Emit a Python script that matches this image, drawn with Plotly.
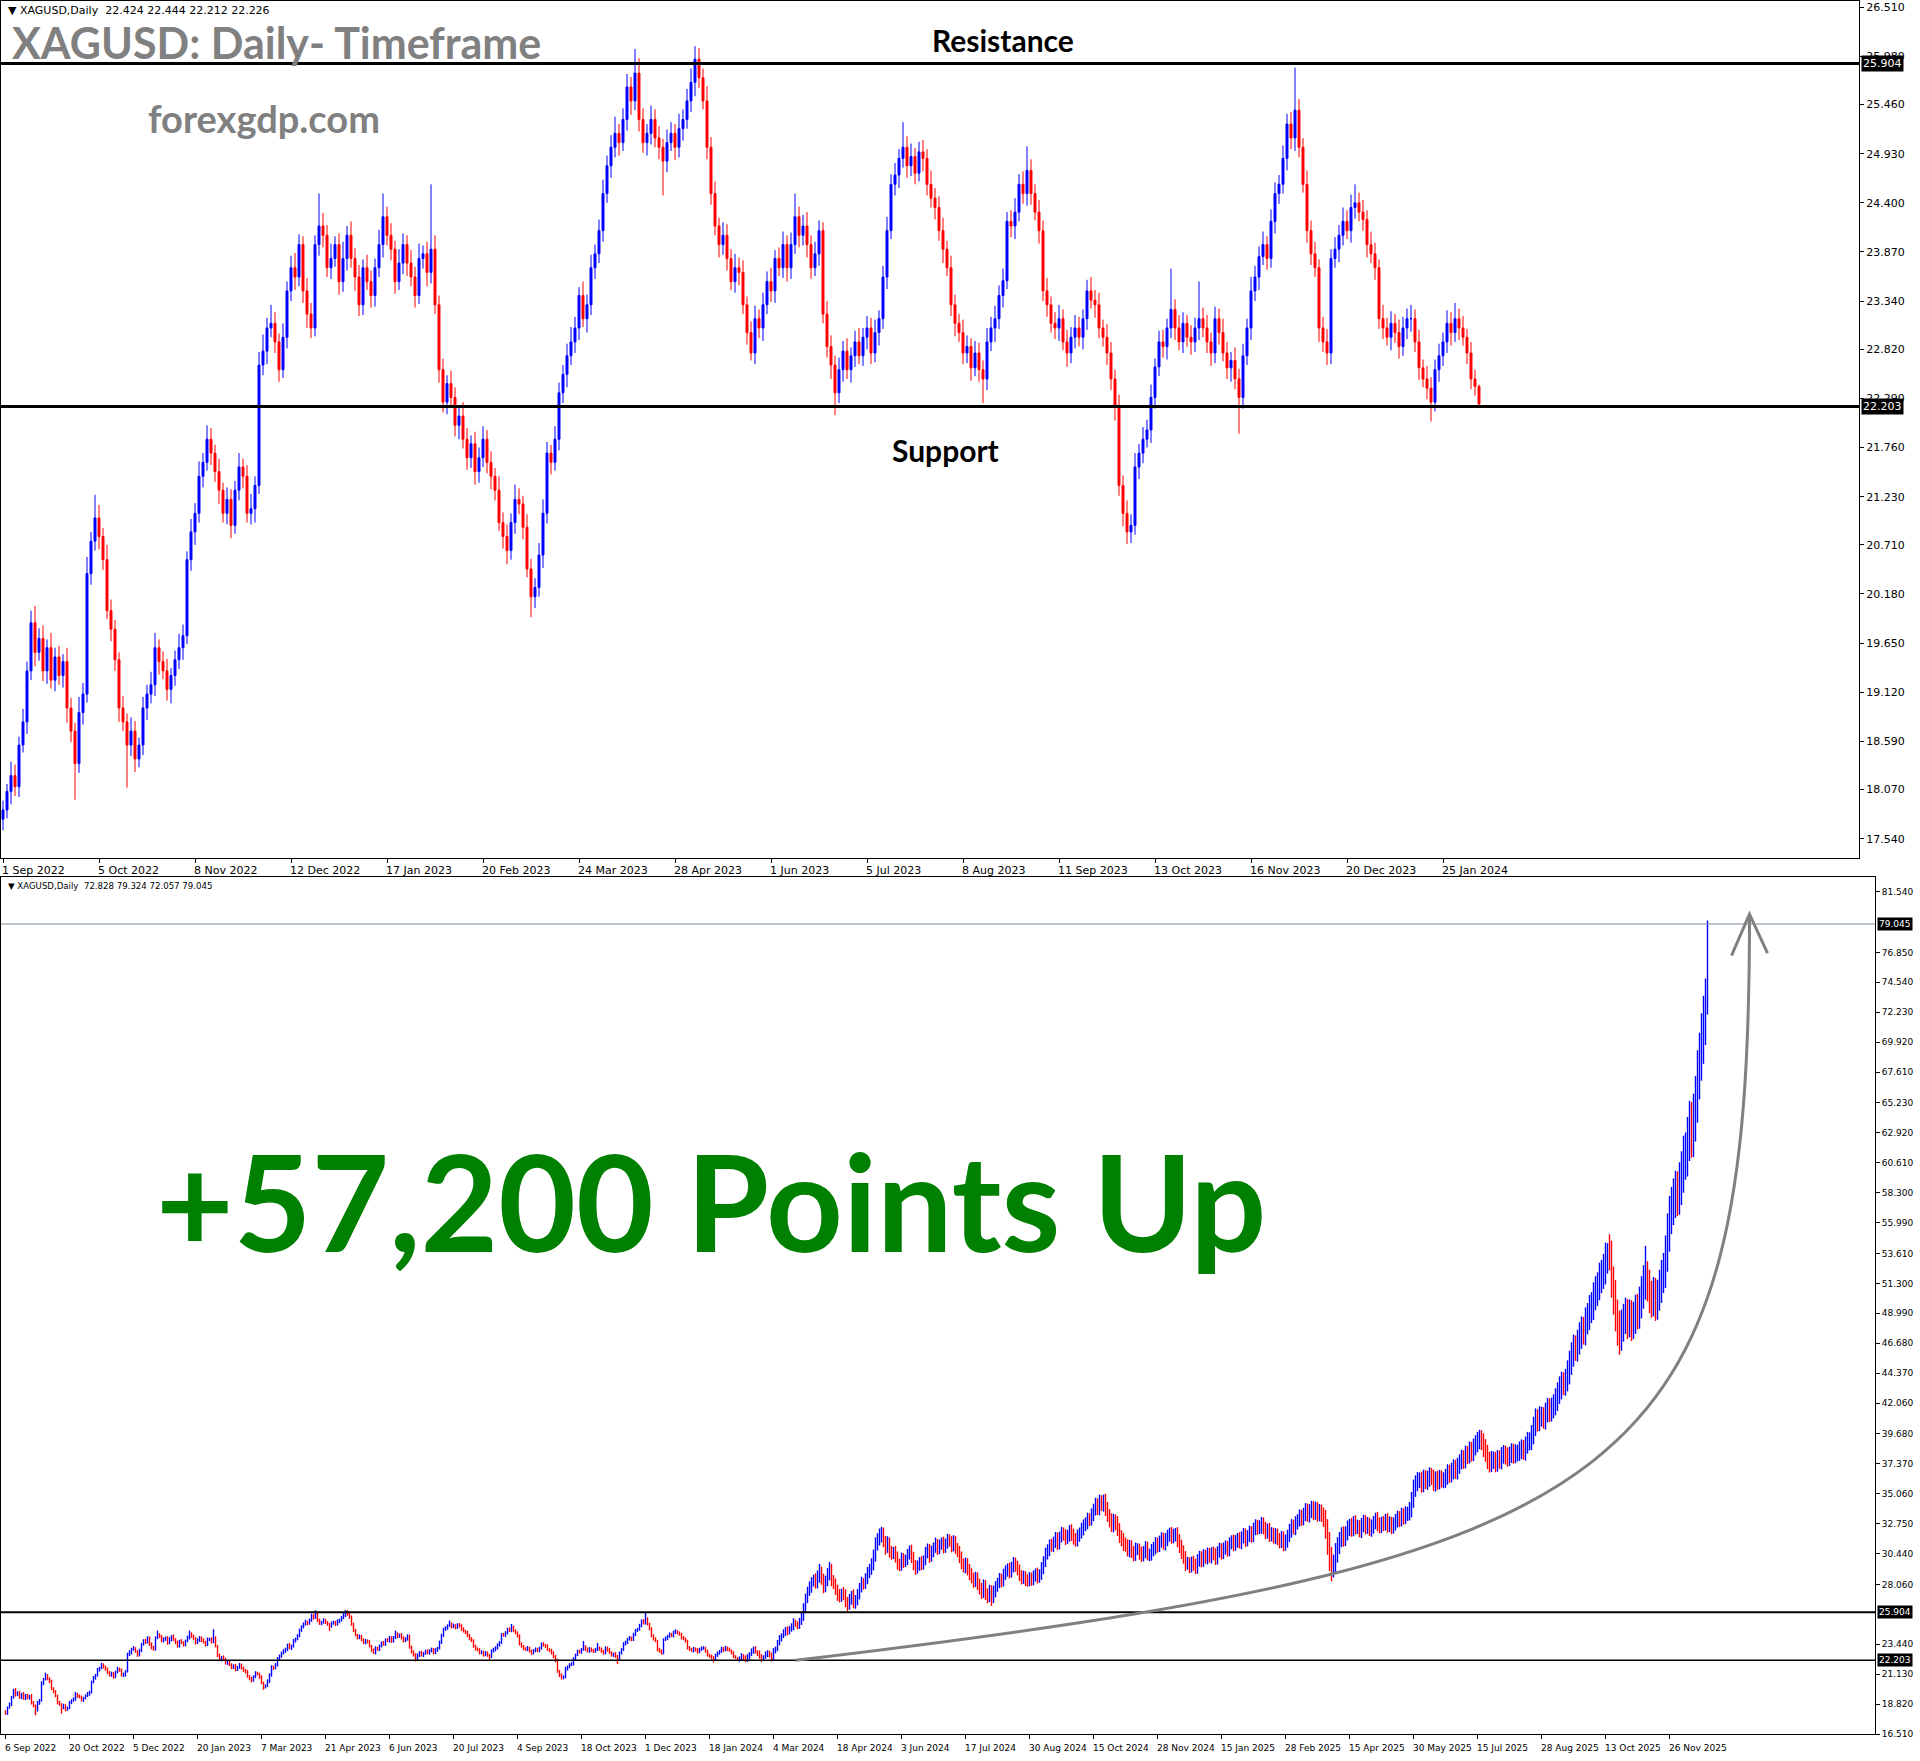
import plotly.graph_objects as go

W, H = 1920, 1761

# ---------------- data ----------------
top_first_open = 17.75
top_close = [
    17.85, 18.05, 18.22, 18.10, 18.55, 18.80, 19.35, 19.87, 19.55, 19.70,
    19.35, 19.60, 19.25, 19.50, 19.30, 19.45, 18.95, 18.70, 18.35, 18.90,
    19.10, 20.40, 20.75, 21.00, 20.80, 20.55, 20.00, 19.80, 19.47, 18.95,
    18.80, 18.55, 18.70, 18.40, 18.55, 18.95, 19.10, 19.20, 19.60, 19.45,
    19.35, 19.15, 19.30, 19.47, 19.60, 19.73, 20.55, 20.85, 21.05, 21.45,
    21.60, 21.85, 21.70, 21.50, 21.30, 21.05, 21.20, 20.92, 21.30, 21.55,
    21.45, 21.05, 21.10, 21.35, 22.65, 22.80, 23.05, 23.10, 22.90, 22.60,
    22.95, 23.45, 23.70, 23.60, 23.95, 23.45, 23.20, 23.05, 23.95, 24.15,
    24.05, 23.70, 23.80, 23.95, 23.55, 23.80, 24.05, 23.80, 23.60, 23.30,
    23.70, 23.55, 23.40, 23.70, 23.95, 24.25, 24.05, 23.90, 23.55, 23.75,
    23.95, 23.75, 23.60, 23.40, 23.80, 23.85, 23.65, 23.90, 23.30, 22.60,
    22.25, 22.45, 22.30, 22.00, 22.10, 21.85, 21.65, 21.80, 21.50, 21.65,
    21.85, 21.60, 21.45, 21.30, 20.95, 20.80, 20.65, 20.95, 21.20, 21.15,
    20.90, 20.45, 20.15, 20.25, 20.60, 21.05, 21.70, 21.60, 21.85, 22.35,
    22.55, 22.75, 22.90, 23.05, 23.40, 23.15, 23.30, 23.70, 23.85, 24.10,
    24.50, 24.80, 25.00, 25.15, 25.05, 25.30, 25.65, 25.50, 25.80, 25.30,
    25.05, 25.15, 25.30, 25.10, 25.00, 24.85, 25.05, 25.15, 25.00, 25.20,
    25.30, 25.50, 25.70, 25.95, 25.75, 25.50, 25.00, 24.50, 24.15, 23.95,
    24.05, 23.80, 23.55, 23.70, 23.65, 23.30, 23.00, 22.78, 23.15, 23.05,
    23.30, 23.55, 23.45, 23.80, 23.70, 23.95, 23.70, 23.95, 24.25, 24.05,
    24.15, 23.95, 23.70, 23.85, 24.10, 23.20, 22.85, 22.65, 22.35, 22.60,
    22.80, 22.60, 22.75, 22.90, 22.75, 22.95, 23.05, 22.78, 23.00, 23.15,
    23.60, 24.10, 24.60, 24.70, 24.88, 25.00, 24.80, 24.90, 24.72, 24.95,
    24.88, 24.60, 24.45, 24.35, 24.10, 23.90, 23.70, 23.30, 23.10, 23.00,
    22.78, 22.85, 22.62, 22.78, 22.60, 22.50, 22.90, 23.05, 23.15, 23.40,
    23.56, 24.20, 24.15, 24.30, 24.60, 24.50, 24.75, 24.50, 24.30, 24.10,
    23.45, 23.30, 23.10, 23.05, 23.15, 22.90, 22.78, 22.95, 23.05, 22.95,
    23.15, 23.45, 23.35, 23.30, 23.05, 22.95, 22.78, 22.50, 22.20, 21.35,
    21.05, 20.85, 20.92, 21.55, 21.70, 21.85, 21.95, 22.30, 22.63, 22.90,
    22.85, 23.05, 23.25, 23.05, 22.90, 23.10, 22.95, 22.90, 23.05, 23.15,
    23.05, 22.90, 22.78, 23.15, 23.00, 22.78, 22.62, 22.70, 22.50, 22.30,
    22.75, 23.05, 23.45, 23.60, 23.82, 23.95, 23.80, 24.20, 24.50, 24.60,
    24.88, 25.25, 25.10, 25.40, 25.00, 24.60, 24.10, 23.85, 23.70, 23.05,
    22.90, 22.78, 23.80, 23.90, 24.05, 24.20, 24.10, 24.35, 24.40, 24.30,
    24.22, 23.95, 23.85, 23.70, 23.15, 23.05, 22.95, 23.10, 23.00, 22.85,
    23.05, 23.15, 23.15, 22.90, 22.62, 22.50, 22.40, 22.25, 22.60, 22.75,
    22.90, 23.10, 23.00, 23.15, 23.05, 22.95, 22.78, 22.50, 22.42, 22.23,
]
top_upper_wick_cents = [
    10, 8, 15, 12, 9, 14, 10, 13, 18, 11,
    14, 9, 16, 10, 12, 8, 15, 11, 9, 17,
    12, 18, 10, 25, 14, 9, 16, 12, 10, 8,
    13, 9, 15, 11, 8, 12, 10, 14, 16, 9,
    11, 13, 8, 10, 15, 12, 9, 14, 11, 16,
    10, 15, 12, 9, 14, 8, 13, 11, 10, 15,
    9, 12, 16, 10, 14, 18, 11, 20, 12, 9,
    15, 10, 13, 16, 11, 9, 14, 12, 10, 35,
    14, 11, 16, 9, 12, 18, 10, 15, 11, 13,
    9, 14, 12, 10, 16, 25, 11, 13, 9, 15,
    12, 10, 14, 11, 16, 9, 13, 70, 15, 10,
    12, 9, 14, 11, 10, 15, 12, 9, 13, 11,
    14, 10, 12, 9, 15, 11, 13, 10, 16, 12,
    9, 14, 11, 10, 13, 15, 12, 9, 14, 11,
    10, 13, 16, 12, 9, 15, 11, 14, 10, 12,
    15, 11, 13, 18, 10, 12, 14, 11, 26, 16,
    12, 10, 15, 11, 13, 9, 14, 12, 10, 16,
    11, 13, 15, 14, 12, 10, 16, 11, 13, 9,
    14, 12, 10, 15, 11, 13, 9, 12, 14, 10,
    13, 11, 15, 9, 12, 14, 10, 13, 25, 11,
    12, 15, 10, 13, 11, 9, 14, 12, 10, 13,
    11, 14, 9, 12, 15, 10, 13, 11, 14, 9,
    12, 15, 11, 13, 10, 27, 12, 14, 9, 11,
    13, 10, 15, 11, 12, 14, 9, 13, 11, 10,
    14, 12, 9, 13, 11, 10, 15, 12, 14, 11,
    13, 10, 12, 15, 11, 14, 26, 12, 10, 13,
    11, 14, 9, 12, 15, 10, 13, 11, 14, 12,
    10, 12, 15, 11, 13, 9, 14, 12, 10, 13,
    11, 14, 12, 15, 10, 13, 11, 14, 9, 12,
    13, 10, 44, 11, 14, 12, 9, 13, 11, 40,
    12, 14, 10, 13, 11, 15, 12, 9, 14, 11,
    13, 10, 15, 12, 11, 14, 9, 13, 12, 10,
    14, 11, 13, 46, 12, 10, 15, 11, 13, 9,
    12, 14, 10, 13, 11, 15, 12, 14, 20, 11,
    13, 10, 14, 12, 9, 15, 11, 13, 10, 14,
    12, 11, 15, 10, 13, 9, 14, 12, 11, 13,
    10, 14, 12, 17, 11, 13, 9, 12, 10, 2,
]
top_lower_wick_cents = [
    12, 9, 14, 10, 11, 8, 13, 10, 15, 9,
    11, 14, 9, 12, 10, 13, 16, 12, 39, 10,
    13, 9, 12, 10, 14, 11, 9, 13, 12, 15,
    10, 46, 12, 14, 9, 11, 13, 10, 12, 14,
    9, 12, 15, 11, 10, 13, 9, 12, 14, 10,
    12, 9, 13, 11, 15, 10, 12, 14, 9, 11,
    13, 10, 12, 15, 9, 11, 14, 10, 12, 13,
    9, 12, 11, 14, 10, 13, 15, 11, 9, 12,
    13, 10, 12, 9, 14, 11, 13, 10, 15, 12,
    11, 9, 13, 12, 10, 14, 11, 12, 13, 9,
    12, 14, 10, 13, 9, 11, 15, 12, 10, 14,
    11, 13, 9, 12, 15, 10, 13, 11, 14, 12,
    10, 12, 14, 11, 9, 13, 15, 10, 12, 11,
    13, 9, 22, 12, 10, 14, 11, 13, 9, 12,
    11, 14, 10, 12, 13, 9, 15, 11, 12, 10,
    12, 10, 13, 11, 14, 9, 12, 15, 10, 13,
    11, 14, 12, 10, 13, 37, 12, 9, 14, 11,
    13, 10, 12, 15, 11, 9, 13, 12, 10, 14,
    11, 13, 9, 12, 14, 10, 13, 8, 12, 11,
    14, 10, 12, 13, 9, 11, 15, 12, 10, 13,
    11, 14, 12, 9, 13, 10, 12, 15, 24, 11,
    13, 10, 14, 12, 9, 11, 13, 12, 10, 14,
    11, 13, 9, 12, 14, 10, 13, 11, 12, 9,
    14, 12, 10, 13, 11, 15, 9, 12, 14, 10,
    12, 11, 14, 9, 13, 26, 12, 10, 15, 11,
    13, 9, 12, 14, 10, 11, 13, 12, 9, 14,
    11, 13, 10, 12, 14, 9, 15, 11, 12, 10,
    13, 12, 9, 14, 11, 10, 13, 12, 15, 11,
    14, 13, 12, 10, 13, 11, 9, 14, 12, 10,
    12, 14, 11, 13, 9, 12, 10, 14, 11, 13,
    10, 12, 14, 11, 13, 9, 12, 15, 11, 39,
    12, 10, 13, 11, 14, 9, 12, 10, 13, 11,
    10, 13, 12, 14, 11, 9, 13, 12, 10, 15,
    11, 13, 12, 10, 14, 11, 9, 13, 12, 10,
    12, 14, 10, 13, 11, 12, 9, 14, 11, 13,
    10, 12, 14, 11, 13, 9, 12, 21, 10, 13,
    11, 12, 14, 10, 13, 9, 12, 11, 10, 2,
]
top_date_labels = ["1 Sep 2022", "5 Oct 2022", "8 Nov 2022", "12 Dec 2022", "17 Jan 2023",
                   "20 Feb 2023", "24 Mar 2023", "28 Apr 2023", "1 Jun 2023", "5 Jul 2023",
                   "8 Aug 2023", "11 Sep 2023", "13 Oct 2023", "16 Nov 2023", "20 Dec 2023",
                   "25 Jan 2024"]
top_label_every = 24
top_price_ticks = [26.51, 25.98, 25.46, 24.93, 24.40, 23.87, 23.34, 22.82, 22.29,
                   21.76, 21.23, 20.71, 20.18, 19.65, 19.12, 18.59, 18.07, 17.54]

bottom_start_shift = 3   # the lower chart starts 3 daily bars after the upper one
bottom_new_close = [
    22.35, 22.55, 22.40, 22.20, 22.45, 22.70, 22.90, 23.10, 22.85, 22.75,
    22.50, 22.30, 22.45, 22.65, 22.80, 22.60, 22.35, 22.90, 23.10, 23.55,
    23.90, 24.10, 24.30, 24.55, 24.40, 24.65, 24.80, 25.10, 25.00, 24.85,
    25.20, 25.55, 26.20, 26.90, 27.50, 27.80, 28.20, 28.45, 28.10, 28.60,
    28.95, 28.50, 27.90, 28.30, 28.80, 29.20, 28.40, 28.10, 27.70, 27.30,
    27.10, 27.40, 27.30, 26.80, 26.55, 26.90, 27.20, 26.70, 26.90, 27.30,
    27.80, 28.20, 28.10, 28.50, 28.90, 29.20, 29.60, 30.20, 31.10, 31.50,
    31.80, 32.00, 31.40, 30.90, 31.30, 30.60, 30.40, 30.60, 30.20, 29.70,
    29.50, 30.10, 29.80, 29.90, 30.40, 30.70, 30.20, 29.60, 29.30, 29.50,
    29.80, 29.60, 29.90, 30.50, 30.80, 30.20, 30.60, 30.90, 31.20, 30.80,
    31.10, 31.30, 30.90, 31.20, 31.50, 31.40, 31.00, 31.40, 30.90, 30.60,
    30.20, 29.70, 29.40, 29.70, 29.20, 28.90, 28.60, 28.30, 28.60, 28.10,
    27.80, 27.50, 28.00, 27.40, 27.20, 27.60, 27.10, 27.50, 27.90, 28.20,
    28.50, 28.30, 28.80, 29.10, 29.30, 29.00, 29.40, 29.70, 29.50, 29.20,
    28.80, 28.50, 28.70, 28.40, 28.30, 28.60, 28.40, 28.70, 28.90, 28.60,
    28.80, 29.30, 29.80, 30.40, 30.70, 31.10, 31.00, 31.30, 31.60, 31.20,
    31.70, 32.00, 31.90, 31.60, 31.80, 32.20, 31.90, 31.60, 31.40, 31.80,
    32.00, 32.30, 32.60, 32.80, 33.10, 33.00, 33.40, 33.80, 34.20, 33.90,
    34.40, 34.20, 34.50, 33.90, 33.40, 33.00, 32.60, 33.00, 32.80, 32.30,
    31.80, 31.50, 31.20, 31.10, 30.70, 31.00, 30.60, 30.40, 30.80, 30.80,
    30.50, 30.30, 30.60, 30.90, 30.40, 30.40, 30.70, 30.90, 31.20, 31.00,
    31.40, 31.60, 31.20, 31.50, 31.80, 32.00, 31.70, 31.90, 32.00, 31.50,
    31.00, 30.60, 30.20, 29.70, 29.70, 29.50, 29.80, 29.60, 29.40, 29.90,
    30.20, 29.90, 30.30, 30.10, 30.40, 30.20, 30.50, 30.40, 30.10, 30.60,
    30.80, 30.50, 30.80, 31.00, 30.70, 31.20, 31.40, 31.10, 31.40, 31.60,
    31.30, 31.70, 31.90, 31.50, 31.80, 32.10, 31.80, 32.30, 32.60, 32.40,
    32.50, 32.80, 32.40, 32.10, 32.30, 31.90, 32.00, 31.70, 31.90, 31.60,
    31.40, 31.70, 31.20, 31.40, 31.80, 32.20, 32.60, 32.40, 32.80, 33.00,
    33.30, 33.10, 33.50, 33.80, 33.40, 33.70, 34.00, 33.60, 33.90, 33.50,
    33.70, 33.50, 33.20, 32.40, 31.30, 30.20, 29.50, 29.70, 30.40, 31.00,
    31.50, 31.90, 31.60, 32.00, 32.40, 32.60, 32.30, 32.80, 32.50, 32.50,
    32.20, 32.60, 32.90, 32.50, 32.70, 32.30, 32.50, 32.80, 33.10, 32.70,
    32.50, 32.80, 32.70, 33.00, 32.60, 32.80, 32.50, 32.70, 33.00, 33.20,
    33.00, 33.40, 33.20, 33.50, 33.50, 33.80, 34.50, 35.40, 35.80, 36.10,
    36.10, 35.80, 36.30, 36.00, 36.20, 36.50, 36.30, 35.90, 36.20, 36.00,
    36.30, 36.10, 36.10, 36.40, 36.70, 36.50, 36.80, 37.10, 36.80, 37.20,
    37.50, 37.80, 37.60, 38.10, 38.00, 38.40, 38.20, 38.60, 38.90, 39.10,
    39.30, 39.10, 38.60, 38.20, 37.70, 37.40, 37.70, 37.70, 37.40, 37.80,
    37.60, 38.00, 38.20, 38.00, 37.80, 38.10, 38.30, 38.00, 38.20, 38.20,
    38.40, 38.60, 38.30, 38.80, 39.10, 39.10, 39.60, 40.20, 40.80, 40.60,
    41.00, 41.00, 40.80, 41.30, 41.60, 41.40, 41.70, 41.90, 42.30, 42.80,
    43.20, 43.60, 43.50, 43.80, 44.40, 45.10, 45.80, 46.30, 46.20, 46.70,
    47.20, 47.70, 47.50, 48.30, 48.70, 49.20, 49.50, 50.20, 50.60, 51.00,
    51.60, 51.90, 52.30, 53.10, 53.70, 53.40, 51.50, 50.40, 49.00, 48.10,
    47.60, 48.10, 48.60, 49.00, 48.40, 48.90, 48.20, 48.70, 49.30, 49.00,
    49.90, 50.60, 51.40, 51.80, 51.20, 50.40, 50.00, 50.60, 49.80, 50.40,
    51.10, 51.80, 52.30, 53.60, 55.20, 56.60, 57.20, 57.90, 58.40, 58.10,
    59.00, 59.90, 61.00, 61.30, 62.40, 63.60, 62.80, 64.10, 65.50, 67.40,
    68.80, 70.20, 71.60, 72.83, 79.05,
]
bottom_upper_wick_cents = [
    15, 20, 12, 18, 25, 14, 22, 16, 19, 13,
    21, 17, 14, 23, 18, 15, 20, 24, 16, 22,
    25, 18, 30, 22, 27, 20, 26, 35, 24, 21,
    28, 33, 40, 45, 38, 50, 42, 36, 47, 55,
    70, 48, 40, 44, 52, 60, 45, 38, 42, 35,
    40, 33, 45, 38, 30, 42, 36, 48, 34, 40,
    38, 45, 35, 42, 50, 44, 48, 55, 60, 52,
    58, 50, 45, 40, 48, 38, 42, 36, 44, 40,
    35, 42, 38, 45, 40, 36, 43, 38, 34, 41,
    37, 44, 39, 46, 42, 38, 45, 40, 48, 36,
    42, 38, 45, 40, 47, 43, 39, 46, 41, 37,
    44, 40, 36, 43, 38, 45, 41, 37, 44, 39,
    42, 38, 45, 40, 36, 43, 39, 46, 41, 37,
    44, 40, 47, 42, 38, 45, 41, 48, 43, 39,
    40, 36, 43, 38, 45, 41, 37, 44, 40, 46,
    42, 48, 44, 50, 46, 42, 49, 45, 51, 47,
    43, 50, 46, 42, 48, 44, 51, 47, 43, 49,
    45, 52, 48, 44, 50, 46, 53, 49, 55, 51,
    60, 54, 50, 56, 52, 48, 55, 51, 47, 53,
    49, 45, 52, 48, 44, 50, 46, 42, 49, 45,
    41, 47, 43, 50, 46, 42, 48, 44, 51, 47,
    43, 49, 45, 52, 48, 44, 50, 46, 42, 48,
    44, 51, 47, 43, 49, 45, 41, 48, 44, 50,
    46, 42, 48, 44, 51, 47, 43, 49, 45, 41,
    48, 44, 50, 46, 42, 49, 45, 51, 47, 43,
    49, 45, 52, 48, 44, 50, 46, 53, 49, 45,
    51, 47, 43, 50, 46, 52, 48, 44, 51, 47,
    43, 50, 46, 52, 48, 54, 50, 46, 53, 49,
    55, 51, 47, 54, 50, 56, 52, 48, 55, 51,
    57, 53, 49, 60, 70, 80, 75, 65, 85, 70,
    62, 58, 64, 55, 60, 52, 58, 54, 60, 56,
    52, 58, 54, 50, 56, 52, 58, 54, 50, 56,
    52, 48, 54, 50, 56, 52, 48, 54, 50, 56,
    52, 58, 54, 60, 56, 62, 70, 75, 68, 64,
    60, 66, 62, 58, 64, 60, 56, 62, 58, 64,
    60, 56, 62, 58, 64, 60, 66, 62, 58, 64,
    60, 66, 62, 68, 64, 70, 66, 72, 68, 74,
    70, 66, 62, 68, 64, 60, 66, 62, 58, 64,
    60, 66, 62, 58, 64, 60, 66, 62, 68, 64,
    70, 66, 62, 68, 74, 70, 76, 80, 85, 78,
    82, 78, 74, 80, 86, 82, 78, 84, 90, 86,
    92, 88, 84, 90, 96, 100, 95, 105, 98, 102,
    110, 105, 100, 115, 108, 120, 112, 118, 125, 115,
    130, 122, 128, 135, 70, 140, 120, 110, 115, 105,
    110, 118, 112, 120, 108, 116, 110, 118, 112, 120,
    115, 125, 130, 240, 120, 115, 110, 120, 112, 118,
    125, 130, 135, 140, 150, 145, 155, 150, 160, 155,
    165, 160, 170, 165, 175, 180, 170, 185, 180, 190,
    185, 195, 190, 200, 27,
]
bottom_lower_wick_cents = [
    14, 18, 22, 15, 12, 20, 16, 19, 13, 21,
    17, 23, 15, 12, 20, 18, 25, 14, 16, 19,
    20, 24, 18, 22, 26, 19, 23, 27, 21, 25,
    22, 26, 30, 35, 28, 32, 38, 30, 36, 34,
    40, 46, 52, 44, 38, 42, 48, 40, 45, 50,
    42, 38, 46, 50, 55, 44, 40, 48, 52, 45,
    40, 36, 44, 38, 42, 35, 40, 45, 38, 42,
    44, 50, 46, 55, 40, 48, 44, 38, 45, 50,
    42, 38, 46, 40, 35, 42, 48, 44, 50, 40,
    38, 44, 40, 36, 42, 48, 38, 44, 40, 46,
    40, 36, 44, 40, 38, 42, 46, 40, 48, 44,
    50, 46, 42, 48, 44, 52, 46, 50, 44, 48,
    52, 56, 48, 54, 60, 50, 70, 48, 44, 40,
    42, 46, 40, 38, 44, 48, 40, 42, 46, 44,
    48, 44, 40, 46, 42, 38, 44, 40, 42, 46,
    40, 38, 44, 40, 42, 46, 40, 44, 42, 48,
    44, 40, 46, 50, 42, 44, 48, 46, 42, 40,
    44, 40, 46, 42, 48, 44, 40, 46, 42, 48,
    50, 46, 52, 56, 50, 54, 48, 52, 56, 50,
    54, 50, 56, 52, 48, 54, 50, 56, 52, 48,
    54, 50, 46, 52, 48, 54, 50, 46, 52, 48,
    44, 50, 46, 52, 48, 44, 50, 46, 52, 56,
    52, 58, 54, 60, 50, 56, 52, 48, 54, 50,
    46, 52, 48, 44, 50, 46, 52, 48, 54, 50,
    46, 52, 48, 44, 50, 46, 42, 48, 44, 50,
    46, 52, 48, 54, 50, 46, 52, 48, 44, 50,
    46, 52, 48, 54, 50, 56, 52, 48, 54, 50,
    56, 52, 58, 54, 50, 46, 52, 48, 54, 50,
    46, 52, 48, 54, 50, 56, 52, 58, 54, 60,
    56, 62, 70, 80, 95, 110, 120, 90, 75, 65,
    60, 56, 62, 58, 54, 60, 56, 52, 58, 54,
    50, 56, 52, 58, 54, 50, 56, 52, 48, 54,
    50, 46, 52, 48, 54, 50, 56, 52, 48, 54,
    50, 46, 52, 48, 54, 50, 56, 52, 58, 54,
    60, 66, 62, 58, 64, 60, 56, 62, 68, 64,
    60, 56, 62, 58, 64, 60, 56, 62, 58, 64,
    60, 56, 62, 58, 64, 60, 66, 62, 58, 64,
    60, 66, 72, 68, 74, 70, 66, 72, 68, 64,
    60, 66, 62, 68, 64, 60, 66, 62, 58, 64,
    60, 66, 62, 68, 64, 70, 66, 72, 68, 74,
    70, 76, 72, 78, 74, 80, 76, 82, 78, 84,
    80, 86, 82, 88, 84, 90, 86, 92, 88, 94,
    90, 96, 92, 98, 94, 100, 96, 102, 98, 104,
    100, 106, 102, 108, 104, 110, 130, 150, 140, 160,
    180, 150, 130, 120, 140, 125, 135, 120, 130, 125,
    120, 130, 125, 135, 130, 140, 135, 125, 140, 130,
    120, 130, 125, 135, 140, 145, 150, 140, 155, 160,
    150, 165, 160, 170, 175, 165, 180, 175, 185, 180,
    190, 185, 195, 190, 77,
]
bottom_date_labels = ["6 Sep 2022", "20 Oct 2022", "5 Dec 2022", "20 Jan 2023", "7 Mar 2023",
                      "21 Apr 2023", "6 Jun 2023", "20 Jul 2023", "4 Sep 2023", "18 Oct 2023",
                      "1 Dec 2023", "18 Jan 2024", "4 Mar 2024", "18 Apr 2024", "3 Jun 2024",
                      "17 Jul 2024", "30 Aug 2024", "15 Oct 2024", "28 Nov 2024", "15 Jan 2025",
                      "28 Feb 2025", "15 Apr 2025", "30 May 2025", "15 Jul 2025", "28 Aug 2025",
                      "13 Oct 2025", "26 Nov 2025"]
bottom_label_every = 32
bottom_price_ticks = [81.54, 76.85, 74.54, 72.23, 69.92, 67.61, 65.23, 62.92, 60.61, 58.30,
                      55.99, 53.61, 51.30, 48.99, 46.68, 44.37, 42.06, 39.68, 37.37, 35.06,
                      32.75, 30.44, 28.06, 23.44, 21.13, 18.82, 16.51]

resistance = 25.904
support = 22.203
last_price = 79.045
top_header = "\u25bc XAGUSD,Daily  22.424 22.444 22.212 22.226"
bottom_header = "\u25bc XAGUSD,Daily  72.828 79.324 72.057 79.045"

assert len(top_close) == len(top_upper_wick_cents) == len(top_lower_wick_cents), \
    (len(top_close), len(top_upper_wick_cents), len(top_lower_wick_cents))
assert len(bottom_new_close) == len(bottom_upper_wick_cents) == len(bottom_lower_wick_cents), \
    (len(bottom_new_close), len(bottom_upper_wick_cents), len(bottom_lower_wick_cents))

# ---------------- build OHLC ----------------
top_open = [top_first_open] + top_close[:-1]
top_high = [max(o, c) + u / 100 for o, c, u in zip(top_open, top_close, top_upper_wick_cents)]
top_low = [min(o, c) - d / 100 for o, c, d in zip(top_open, top_close, top_lower_wick_cents)]
top_x = list(range(len(top_close)))

b_open = top_open[bottom_start_shift:]
b_close = top_close[bottom_start_shift:]
b_high = top_high[bottom_start_shift:]
b_low = top_low[bottom_start_shift:]
prev = b_close[-1]
for c, u, d in zip(bottom_new_close, bottom_upper_wick_cents, bottom_lower_wick_cents):
    o = prev
    b_open.append(o)
    b_close.append(c)
    b_high.append(max(o, c) + u / 100)
    b_low.append(min(o, c) - d / 100)
    prev = c

up_x, up_y, dn_x, dn_y = [], [], [], []
for j, (o, h, l, c) in enumerate(zip(b_open, b_high, b_low, b_close)):
    if c >= o:
        up_x += [j, j, None]; up_y += [l, h, None]
    else:
        dn_x += [j, j, None]; dn_y += [l, h, None]

# ---------------- figure ----------------
def pxx(x):
    return x / W


def pyy(y):
    return 1 - y / H


BLUE = "#0000ff"
RED = "#ff0000"
AXFONT = "DejaVu Sans"

fig = go.Figure()
fig.add_trace(go.Candlestick(
    x=top_x, open=top_open, high=top_high, low=top_low, close=top_close,
    increasing=dict(line=dict(color=BLUE, width=1), fillcolor=BLUE),
    decreasing=dict(line=dict(color=RED, width=1), fillcolor=RED),
    whiskerwidth=0, hoverinfo="skip", showlegend=False, xaxis="x", yaxis="y"))
fig.add_trace(go.Scatter(x=up_x, y=up_y, mode="lines", line=dict(color=BLUE, width=1.4),
                         hoverinfo="skip", showlegend=False, xaxis="x2", yaxis="y2"))
fig.add_trace(go.Scatter(x=dn_x, y=dn_y, mode="lines", line=dict(color=RED, width=1.4),
                         hoverinfo="skip", showlegend=False, xaxis="x2", yaxis="y2"))

top_ticks = [k * top_label_every for k in range(len(top_date_labels))]
bot_ticks = [k * bottom_label_every for k in range(len(bottom_date_labels))]

common_axis = dict(showgrid=False, zeroline=False, showline=True, mirror=True,
                   linecolor="black", linewidth=1, ticks="outside", ticklen=4,
                   tickcolor="black", fixedrange=True)

fig.update_layout(
    width=W, height=H, margin=dict(l=0, r=0, t=0, b=0),
    paper_bgcolor="white", plot_bgcolor="white", showlegend=False,
    xaxis=dict(domain=[pxx(1), pxx(1859)], range=[-0.5, 464.0], anchor="y",
               tickvals=top_ticks, showticklabels=False, rangeslider=dict(visible=False),
               **common_axis),
    yaxis=dict(domain=[pyy(860), pyy(1)], range=[17.336, 26.578], anchor="x", side="right",
               tickvals=top_price_ticks, ticktext=[f"{v:.3f}" for v in top_price_ticks],
               tickfont=dict(family=AXFONT, size=11, color="black"), **common_axis),
    xaxis2=dict(domain=[pxx(1), pxx(1875)], range=[-2.25, 934.75], anchor="y2",
                tickvals=bot_ticks, showticklabels=False, **common_axis),
    yaxis2=dict(domain=[pyy(1739), pyy(879)], range=[16.51, 82.71], anchor="x2", side="right",
                tickvals=bottom_price_ticks, ticktext=[f"{v:.3f}" for v in bottom_price_ticks],
                tickfont=dict(family=AXFONT, size=9, color="black"), **common_axis),
)

shapes = [
    dict(type="line", xref="x domain", yref="y", x0=0, x1=1, y0=resistance, y1=resistance,
         line=dict(color="black", width=3)),
    dict(type="line", xref="x domain", yref="y", x0=0, x1=1, y0=support, y1=support,
         line=dict(color="black", width=3)),
    dict(type="line", xref="x2 domain", yref="y2", x0=0, x1=1, y0=resistance, y1=resistance,
         line=dict(color="black", width=2)),
    dict(type="line", xref="x2 domain", yref="y2", x0=0, x1=1, y0=support, y1=support,
         line=dict(color="black", width=1.5)),
    dict(type="line", xref="x2 domain", yref="y2", x0=0, x1=1, y0=last_price, y1=last_price,
         line=dict(color="#778899", width=1)),
    # hand-drawn curved arrow
    dict(type="path", xref="x2", yref="y2",
         path="M 395,22.2 C 820,30 872,36 872,79.7",
         line=dict(color="#808080", width=3)),
    dict(type="path", xref="x2", yref="y2",
         path="M 863,76.6 L 872,79.8 L 881,76.8",
         line=dict(color="#808080", width=3)),
]
fig.update_layout(shapes=shapes)

ann = []
for t, lab in zip(top_ticks, top_date_labels):
    ann.append(dict(x=t, y=pyy(873), xref="x", yref="paper", text=lab, showarrow=False,
                    xanchor="left", yanchor="middle", xshift=-3,
                    font=dict(family=AXFONT, size=11, color="black")))
for t, lab in zip(bot_ticks, bottom_date_labels):
    ann.append(dict(x=t, y=pyy(1753), xref="x2", yref="paper", text=lab, showarrow=False,
                    xanchor="left", yanchor="middle", xshift=-3,
                    font=dict(family=AXFONT, size=9, color="black")))

for v in (resistance, support):
    ann.append(dict(x=pxx(1861), y=v, xref="paper", yref="y", text=f"{v:.3f}", showarrow=False,
                    xanchor="left", yanchor="middle", bgcolor="black", borderpad=1,
                    font=dict(family=AXFONT, size=11, color="white")))
for v in (last_price, resistance, support):
    ann.append(dict(x=pxx(1877), y=v, xref="paper", yref="y2", text=f"{v:.3f}", showarrow=False,
                    xanchor="left", yanchor="middle", bgcolor="black", borderpad=1,
                    font=dict(family=AXFONT, size=9, color="white")))

ann += [
    dict(x=pxx(6), y=pyy(11), xref="paper", yref="paper", text=top_header, showarrow=False,
         xanchor="left", yanchor="middle", font=dict(family=AXFONT, size=11, color="black")),
    dict(x=pxx(6), y=pyy(889), xref="paper", yref="paper", text=bottom_header, showarrow=False,
         xanchor="left", yanchor="middle", font=dict(family=AXFONT, size=8.6, color="black")),
    dict(x=pxx(10), y=pyy(43), xref="paper", yref="paper", text="<b>XAGUSD: Daily- Timeframe</b>",
         showarrow=False, xanchor="left", yanchor="middle",
         font=dict(family="Lato", size=43, color="#808080")),
    dict(x=pxx(146), y=pyy(118), xref="paper", yref="paper", text="<b>forexgdp.com</b>",
         showarrow=False, xanchor="left", yanchor="middle",
         font=dict(family="Lato", size=38, color="#808080")),
    dict(x=pxx(930), y=pyy(40), xref="paper", yref="paper", text="<b>Resistance</b>",
         showarrow=False, xanchor="left", yanchor="middle",
         font=dict(family="Lato", size=30, color="black")),
    dict(x=pxx(890), y=pyy(451), xref="paper", yref="paper", text="<b>Support</b>",
         showarrow=False, xanchor="left", yanchor="middle",
         font=dict(family="Lato", size=30, color="black")),
    dict(x=pxx(154), y=pyy(1204), xref="paper", yref="paper", text="<b>+57,200 Points Up</b>",
         showarrow=False, xanchor="left", yanchor="middle",
         font=dict(family="Lato", size=134, color="#008000")),
]
fig.update_layout(annotations=ann)

fig.write_html("out.html", config={"displayModeBar": False})
